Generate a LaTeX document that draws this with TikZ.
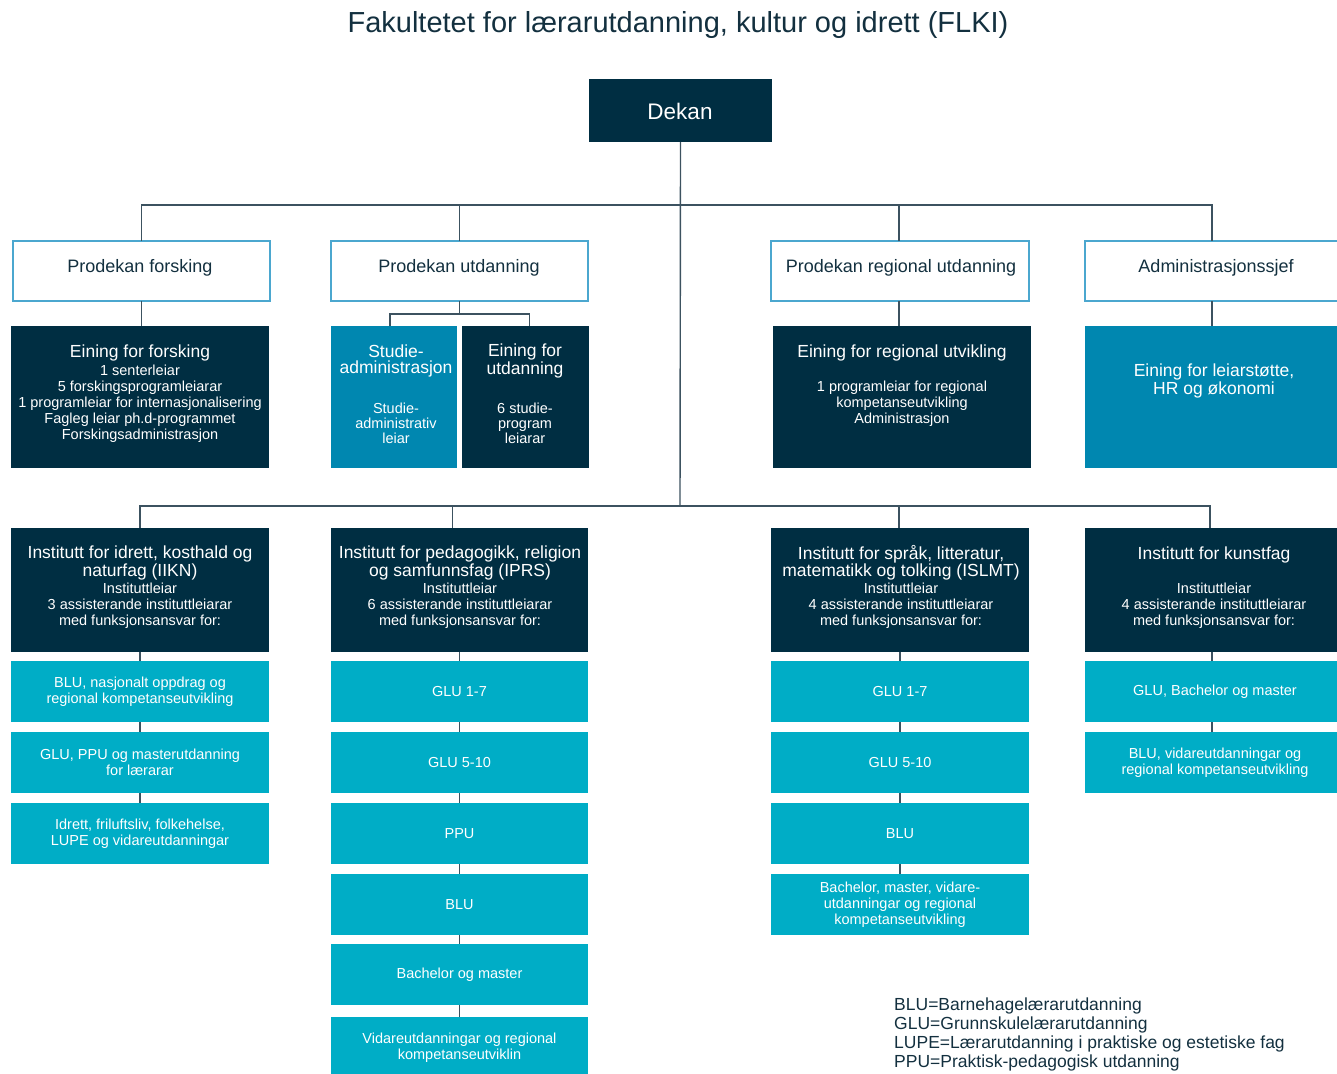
\documentclass[tikz,border=0pt]{standalone}
\usepackage{fontspec}
\setmainfont{Liberation Sans}
\usetikzlibrary{calc}
\definecolor{darkb}{HTML}{002E42}
\definecolor{midb}{HTML}{0087B0}
\definecolor{cyanb}{HTML}{00ADC6}
\definecolor{bordb}{HTML}{4BA7CF}
\definecolor{linec}{HTML}{3C5260}
\definecolor{navyt}{HTML}{13303F}
\newcommand\fTitle{\fontsize{29}{30}\selectfont}
\newcommand\fDekan{\fontsize{22.5}{25}\selectfont}
\newcommand\fPro{\fontsize{18}{19}\selectfont}
\newcommand\fHead{\fontsize{17.5}{16}\selectfont}
\newcommand\fDet{\fontsize{14.5}{16}\selectfont}
\newcommand\fDetB{\fontsize{14.5}{15}\selectfont}
\newcommand\fSub{\fontsize{14.5}{16}\selectfont}
\newcommand\fLeg{\fontsize{17.5}{19}\selectfont}
\newcommand\mkbox[7]{\node[#2, minimum width={(#5)-(#3)}, minimum height={(#6)-(#4)}] (#1) at ({((#3)+(#5))/2},{((#4)+(#6))/2}) {#7};}
\tikzset{
  boxbase/.style={rectangle, inner sep=0pt, outer sep=0pt, align=center},
  darkbox/.style={boxbase, fill=darkb},
  midbox/.style={boxbase, fill=midb},
  cyanbox/.style={boxbase, fill=cyanb, text=white, font=\fSub},
  probox/.style={boxbase, fill=white, draw=bordb, line width=1.5pt},
  conn/.style={draw=linec, line width=1.4pt},
  wt/.style={text=white, align=center, inner sep=0pt},
  pt/.style={text=navyt, align=center, inner sep=0pt, font=\fPro},
}
\begin{document}
\begin{tikzpicture}[x=1pt,y=-1pt]
\useasboundingbox (0,0) rectangle (1337,1073);
% title
\node[font=\fTitle, text=navyt, inner sep=0pt] (title) at (678,25) {Fakultetet for lærarutdanning, kultur og idrett (FLKI)};
% Dekan
\mkbox{dekan}{darkbox}{589}{79}{772}{142}{}
\node[wt, font=\fDekan] (dekant) at (680,111) {Dekan};
% hubs
\coordinate (hubA) at (680,205);
\coordinate (hubB) at (680,506);
% Prodekan row
\mkbox{pf}{probox}{13}{241}{270}{301}{}
\mkbox{pu}{probox}{331}{241}{588}{301}{}
\mkbox{pr}{probox}{771}{241}{1029}{301}{}
\mkbox{as}{probox}{1085}{241}{1345}{301}{}
\node[pt] (pft) at (140,268) {Prodekan forsking};
\node[pt] (put) at (459,268) {Prodekan utdanning};
\node[pt] (prt) at (901,268) {Prodekan regional utdanning};
\node[pt] (ast) at (1216,268) {Administrasjonssjef};
% Row 2 units
\mkbox{ef}{darkbox}{11}{326}{269}{468}{}
\mkbox{sa}{midbox}{331}{326}{457}{468}{}
\mkbox{eu}{darkbox}{462}{326}{589}{468}{}
\mkbox{er}{darkbox}{773}{326}{1031}{468}{}
\mkbox{el}{midbox}{1085}{326}{1345}{468}{}
\node[wt, font=\fHead] (eft) at (140,353) {Eining for forsking};
\node[wt, font=\fDet] (efd) at (140,404) {1 senterleiar\\5 forskingsprogramleiarar\\1 programleiar for internasjonalisering\\Fagleg leiar ph.d-programmet\\Forskingsadministrasjon};
\node[wt, font=\fHead] (sat) at (396,361) {Studie-\\administrasjon};
\node[wt, font=\fDetB] (sad) at (396,423) {Studie-\\administrativ\\leiar};
\node[wt, font=\fHead] (eut) at (525,361) {Eining for\\utdanning};
\node[wt, font=\fDetB] (eud) at (525,423) {6 studie-\\program\\leiarar};
\node[wt, font=\fHead] (ert) at (902,353) {Eining for regional utvikling};
\node[wt, font=\fDet] (erd) at (902,404) {1 programleiar for regional\\kompetanseutvikling\\Administrasjon};
\node[wt, font=\fHead] (elt) at (1214,381) {Eining for leiarstøtte,\\HR og økonomi};
% Institutes
\mkbox{ia}{darkbox}{11}{528}{269}{652}{}
\mkbox{ib}{darkbox}{331}{528}{588}{652}{}
\mkbox{ic}{darkbox}{771}{528}{1029}{652}{}
\mkbox{id}{darkbox}{1085}{528}{1345}{652}{}
\node[wt, font=\fHead] (iat) at (140,563) {Institutt for idrett, kosthald og\\naturfag (IIKN)};
\node[wt, font=\fDet] (iad) at (140,606) {Instituttleiar\\3 assisterande instituttleiarar\\med funksjonsansvar for:};
\node[wt, font=\fHead] (ibt) at (460,563) {Institutt for pedagogikk, religion\\og samfunnsfag (IPRS)};
\node[wt, font=\fDet] (ibd) at (460,606) {Instituttleiar\\6 assisterande instituttleiarar\\med funksjonsansvar for:};
\node[wt, font=\fHead] (ict) at (901,563) {Institutt for språk, litteratur,\\matematikk og tolking (ISLMT)};
\node[wt, font=\fDet] (icd) at (901,606) {Instituttleiar\\4 assisterande instituttleiarar\\med funksjonsansvar for:};
\node[wt, font=\fHead] (idt) at (1214,555) {Institutt for kunstfag};
\node[wt, font=\fDet] (idd) at (1214,606) {Instituttleiar\\4 assisterande instituttleiarar\\med funksjonsansvar for:};
% Sub boxes IIKN
\mkbox{a1}{cyanbox}{11}{661}{269}{722}{BLU, nasjonalt oppdrag og\\regional kompetanseutvikling}
\mkbox{a2}{cyanbox}{11}{732}{269}{793}{GLU, PPU og masterutdanning\\for lærarar}
\mkbox{a3}{cyanbox}{11}{803}{269}{864}{Idrett, friluftsliv, folkehelse,\\LUPE og vidareutdanningar}
% IPRS
\mkbox{b1}{cyanbox}{331}{661}{588}{722}{GLU 1-7}
\mkbox{b2}{cyanbox}{331}{732}{588}{793}{GLU 5-10}
\mkbox{b3}{cyanbox}{331}{803}{588}{864}{PPU}
\mkbox{b4}{cyanbox}{331}{874}{588}{935}{BLU}
\mkbox{b5}{cyanbox}{331}{944}{588}{1005}{Bachelor og master}
\mkbox{b6}{cyanbox}{331}{1017}{588}{1078}{Vidareutdanningar og regional\\kompetanseutviklin}
% ISLMT
\mkbox{c1}{cyanbox}{771}{661}{1029}{722}{GLU 1-7}
\mkbox{c2}{cyanbox}{771}{732}{1029}{793}{GLU 5-10}
\mkbox{c3}{cyanbox}{771}{803}{1029}{864}{BLU}
\mkbox{c4}{cyanbox}{771}{874}{1029}{935}{Bachelor, master, vidare-\\utdanningar og regional\\kompetanseutvikling}
% Kunstfag
\mkbox{d1}{cyanbox}{1085}{661}{1345}{722}{GLU, Bachelor og master}
\mkbox{d2}{cyanbox}{1085}{732}{1345}{793}{BLU, vidareutdanningar og\\regional kompetanseutvikling}
% Connectors top
\draw[conn] (dekan.south) -- (hubB);
\draw[conn] (pf.north) -- (pf.north |- hubA) -- ([xshift=-3]as.north |- hubA) -- ([xshift=-3]as.north);
\draw[conn] (pu.north) -- (pu.north |- hubA);
\draw[conn] ([xshift=-1]pr.north) -- ([xshift=-1]pr.north |- hubA);
\draw[conn] (pf.south) -- (pf.south |- ef.north);
\draw[conn] ([xshift=-1]pr.south) -- ([xshift=-1]pr.south |- er.north);
\draw[conn] ([xshift=-3]as.south) -- ([xshift=-3]as.south |- el.north);
\draw[conn] (pu.south) -- ++(0,13) coordinate (pusplit);
\draw[conn] ([xshift=-4]sa.north) |- (pusplit) -| ([xshift=4]eu.north);
% Connectors institutes
\draw[conn] (ia.north) -- (ia.north |- hubB) -- ([xshift=-5]id.north |- hubB) -- ([xshift=-5]id.north);
\draw[conn] ([xshift=-7]ib.north) -- ([xshift=-7]ib.north |- hubB);
\draw[conn] ([xshift=-1]ic.north) -- ([xshift=-1]ic.north |- hubB);
% chains
\draw[conn] (ia.south) -- (a1.north);
\draw[conn] (a1.south) -- (a2.north);
\draw[conn] (a2.south) -- (a3.north);
\draw[conn] (ib.south) -- (b1.north);
\draw[conn] (b1.south) -- (b2.north);
\draw[conn] (b2.south) -- (b3.north);
\draw[conn] (b3.south) -- (b4.north);
\draw[conn] (b4.south) -- (b5.north);
\draw[conn] (b5.south) -- (b6.north);
\draw[conn] (ic.south) -- (c1.north);
\draw[conn] (c1.south) -- (c2.north);
\draw[conn] (c2.south) -- (c3.north);
\draw[conn] (c3.south) -- (c4.north);
\draw[conn] ([xshift=-3]id.south) -- ([xshift=-3]d1.north);
\draw[conn] ([xshift=-3]d1.south) -- ([xshift=-3]d2.north);
% legend
\node[font=\fLeg, text=navyt, align=left, anchor=west, inner sep=0pt] (legend) at (894,1034) {BLU=Barnehagelærarutdanning\\GLU=Grunnskulelærarutdanning\\LUPE=Lærarutdanning i praktiske og estetiske fag\\PPU=Praktisk-pedagogisk utdanning};
\end{tikzpicture}
\end{document}
